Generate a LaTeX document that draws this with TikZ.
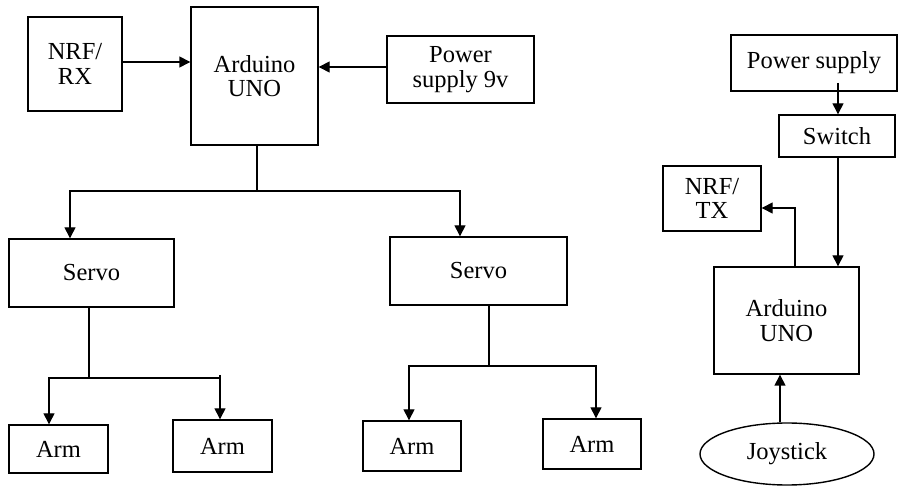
\documentclass[tikz,border=0pt]{standalone}
\usepackage{fontspec}
\setmainfont{Liberation Serif}
\usetikzlibrary{arrows.meta,shapes.geometric}
\begin{document}
\begin{tikzpicture}[x=1pt,y=-1pt,
  box/.style={draw,line width=1.4pt,inner sep=0pt,align=center,font=\fontsize{24.5}{24.5}\selectfont},
  ln/.style={line width=1.4pt},
  arr/.style={line width=1.4pt,-{Triangle[length=11pt,width=11pt]}}]
\useasboundingbox (0,0) rectangle (898,486);
% left system
\node[box,minimum width=94pt,minimum height=94pt] (nrfrx) at (75,64) {NRF/\\RX};
\node[box,minimum width=127pt,minimum height=138pt] (ard) at (254.5,76) {Arduino\\UNO};
\node[box,minimum width=147pt,minimum height=67pt] (pw9) at (460.5,69.5) {Power\\supply 9v};
\node[box,minimum width=165pt,minimum height=68pt] (servoL) at (91.5,273) {Servo};
\node[box,minimum width=177pt,minimum height=68pt] (servoR) at (478.5,271) {Servo};
\node[box,minimum width=99pt,minimum height=48pt] (arm1) at (58.5,449) {Arm};
\node[box,minimum width=99pt,minimum height=52pt] (arm2) at (222.5,446) {Arm};
\node[box,minimum width=98pt,minimum height=50pt] (arm3) at (412,446) {Arm};
\node[box,minimum width=98pt,minimum height=50pt] (arm4) at (592,444) {Arm};
% right system
\node[box,minimum width=166pt,minimum height=56pt] (pwR) at (814,63) {Power supply};
\node[box,minimum width=116pt,minimum height=42pt] (sw) at (837,136) {Switch};
\node[box,minimum width=98pt,minimum height=65pt] (nrftx) at (712,198.5) {NRF/\\TX};
\node[box,minimum width=145pt,minimum height=107pt] (ardR) at (786.5,320.5) {Arduino\\UNO};
\node[box,ellipse,minimum width=174pt,minimum height=62pt] (joy) at (787,454) {Joystick};
% junction coordinates
\coordinate (j1) at (257,191);
\coordinate (bL) at (70,191);
\coordinate (bR) at (460,191);
\coordinate (j2) at (89,378);
\coordinate (a1) at (49,378);
\coordinate (a2) at (220,378);
\coordinate (tk) at (220,375);
\coordinate (j3) at (489,366);
\coordinate (a3) at (409,366);
\coordinate (a4) at (596,366);
\coordinate (ps) at (838,83);
\coordinate (tx) at (795,208);
\coordinate (jy) at (780,0);
% left connectors
\draw[arr] (nrfrx.east |- 0,62) -- (ard.west |- 0,62);
\draw[arr] (pw9.west |- 0,67) -- (ard.east |- 0,67);
\draw[ln] (ard.south -| j1) -- (j1);
\draw[arr] (j1) -- (bL) -- (bL |- servoL.north);
\draw[arr] (j1) -- (bR) -- (bR |- servoR.north);
\draw[ln] (servoL.south -| j2) -- (j2);
\draw[arr] (j2) -- (a1) -- (a1 |- arm1.north);
\draw[ln] (j2) -- (a2);
\draw[arr] (tk) -- (tk |- arm2.north);
\draw[ln] (servoR.south -| j3) -- (j3);
\draw[arr] (j3) -- (a3) -- (a3 |- arm3.north);
\draw[arr] (j3) -- (a4) -- (a4 |- arm4.north);
% right connectors
\draw[arr] (ps) -- (ps |- sw.north);
\draw[arr] (sw.south -| ps) -- (ardR.north -| ps);
\draw[arr] (ardR.north -| tx) -- (tx) -- (tx -| nrftx.east);
\draw[arr] (joy.north -| jy) -- (ardR.south -| jy);
\end{tikzpicture}
\end{document}
